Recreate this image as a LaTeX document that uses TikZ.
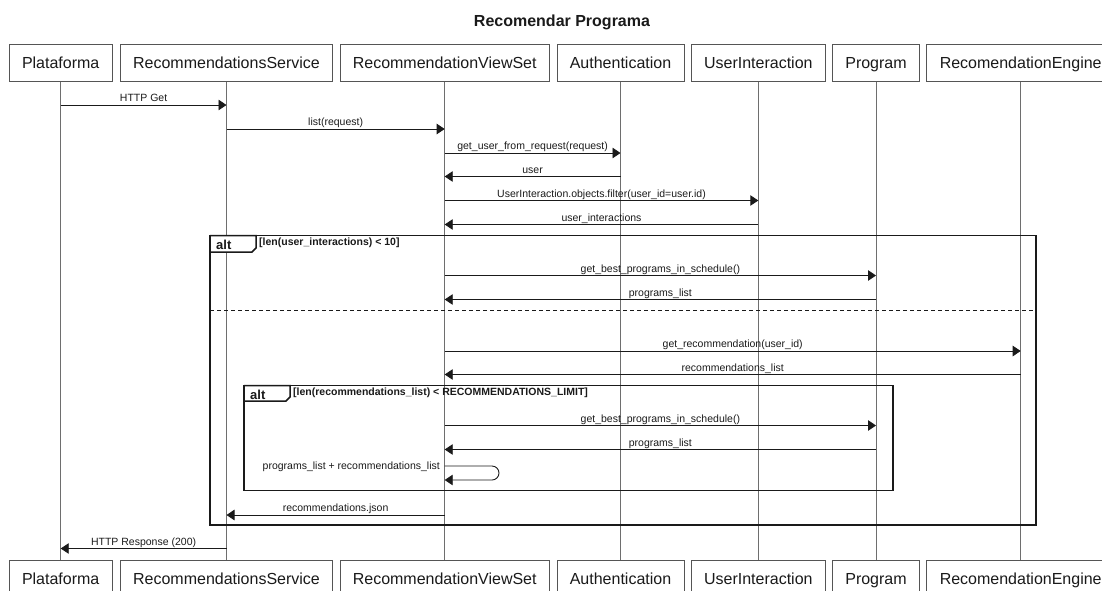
\documentclass[tikz,border=0pt]{standalone}
\usepackage{fontspec}
\setmainfont{Liberation Sans}
\usetikzlibrary{arrows.meta}
\definecolor{lifegray}{HTML}{6E6E6E}
\definecolor{boxgray}{HTML}{555555}
\definecolor{ink}{HTML}{1A1A1A}
\begin{document}
\begin{tikzpicture}[x=1pt,y=-1pt,
  actor/.style={draw=boxgray, line width=0.9pt, fill=white, minimum height=37.5pt,
    inner sep=0pt, text height=13.2pt, text depth=1.8pt,
    font=\fontsize{16}{18}\selectfont, text=ink},
  lifeline/.style={draw=lifegray, line width=1pt},
  msg/.style={draw=ink, line width=0.9pt, -{Triangle[length=8pt,width=10.5pt]}},
  lbl/.style={font=\fontsize{10.5}{12}\selectfont, text=ink, anchor=base, inner sep=0pt},
  frame/.style={draw=ink, line width=1.7pt},
  tab/.style={draw=ink, line width=1.5pt, fill=white},
  altword/.style={font=\bfseries\fontsize{13}{15}\selectfont, text=ink, anchor=base west, inner sep=0pt},
  guard/.style={font=\bfseries\fontsize{10.5}{12}\selectfont, text=ink, anchor=base west, inner sep=0pt}]

\useasboundingbox (0,0) rectangle (1102,590);
\clip (0,0) rectangle (1102,590);

% title
\node[font=\bfseries\fontsize{16}{19}\selectfont, text=ink, anchor=base] (title) at (562,26) {Recomendar Programa};

% participants, top row
\node[actor, minimum width=103pt] (pf) at (60.7,63) {Plataforma};
\node[actor, minimum width=212pt] (rs) at (226.5,63) {RecommendationsService};
\node[actor, minimum width=209pt] (vs) at (444.7,63) {RecommendationViewSet};
\node[actor, minimum width=127pt] (au) at (620.5,63) {Authentication};
\node[actor, minimum width=134pt] (ui) at (758.3,63) {UserInteraction};
\node[actor, minimum width=87pt]  (pg) at (876,63) {Program};
\node[actor, minimum width=188pt] (re) at (1020.7,63) {RecomendationEngine};

% participants, bottom row
\node[actor, minimum width=103pt] (pfB) at (60.7,578.8) {Plataforma};
\node[actor, minimum width=212pt] (rsB) at (226.5,578.8) {RecommendationsService};
\node[actor, minimum width=209pt] (vsB) at (444.7,578.8) {RecommendationViewSet};
\node[actor, minimum width=127pt] (auB) at (620.5,578.8) {Authentication};
\node[actor, minimum width=134pt] (uiB) at (758.3,578.8) {UserInteraction};
\node[actor, minimum width=87pt]  (pgB) at (876,578.8) {Program};
\node[actor, minimum width=188pt] (reB) at (1020.7,578.8) {RecomendationEngine};

% lifelines
\foreach \p in {pf,rs,vs,au,ui,pg,re}
  \draw[lifeline] (\p.south) -- (\p B.north);

% opening calls
\draw[msg] (pf |- 0,105) -- node[lbl, yshift=3.5pt] {HTTP Get} (rs |- 0,105);
\draw[msg] (rs |- 0,129) -- node[lbl, yshift=3.5pt] {list(request)} (vs |- 0,129);
\draw[msg] (vs |- 0,153) -- node[lbl, yshift=3.5pt] {get\_user\_from\_request(request)} (au |- 0,153);
\draw[msg] (au |- 0,176.5) -- node[lbl, yshift=3.5pt] {user} (vs |- 0,176.5);
\draw[msg] (vs |- 0,200.5) -- node[lbl, yshift=3.5pt] {UserInteraction.objects.filter(user\_id=user.id)} (ui |- 0,200.5);
\draw[msg] (ui |- 0,224.5) -- node[lbl, yshift=3.5pt] {user\_interactions} (vs |- 0,224.5);

% outer alt fragment
\draw[tab] (210,235.5) -- (256,235.5) -- (256,248) -- (252,252) -- (210,252);
\draw[frame] (210,235.5) rectangle (1036,525);
\node[altword] (alt1) at (216,249) {alt};
\node[guard] (g1) at (259,245.5) {[len(user\_interactions) < 10]};

\draw[msg] (vs |- 0,275.5) -- node[lbl, yshift=3.5pt] {get\_best\_programs\_in\_schedule()} (pg |- 0,275.5);
\draw[msg] (pg |- 0,299.5) -- node[lbl, yshift=3.5pt] {programs\_list} (vs |- 0,299.5);

\draw[draw=ink, line width=1.5pt, dash pattern=on 4pt off 3pt] (210,310.5) -- (1036,310.5);

\draw[msg] (vs |- 0,351) -- node[lbl, yshift=3.5pt] {get\_recommendation(user\_id)} (re |- 0,351);
\draw[msg] (re |- 0,374.5) -- node[lbl, yshift=3.5pt] {recommendations\_list} (vs |- 0,374.5);

% inner alt fragment
\draw[tab] (244,385.5) -- (290,385.5) -- (290,397) -- (286,401) -- (244,401);
\draw[frame] (244,385.5) rectangle (893,490.5);
\node[altword] (alt2) at (250,399) {alt};
\node[guard] (g2) at (293,395) {[len(recommendations\_list) < RECOMMENDATIONS\_LIMIT]};

\draw[msg] (vs |- 0,425.5) -- node[lbl, yshift=3.5pt] {get\_best\_programs\_in\_schedule()} (pg |- 0,425.5);
\draw[msg] (pg |- 0,449.5) -- node[lbl, yshift=3.5pt] {programs\_list} (vs |- 0,449.5);

% self call on the view set
\coordinate (selfR) at (499,473);
\draw[msg, rounded corners=7pt] (vs |- 0,466) -- (selfR |- 0,466) -- (selfR |- 0,480) -- (vs |- 0,480);
\node[lbl, anchor=base east] (selfL) at (440,469) {programs\_list + recommendations\_list};

% replies
\draw[msg] (vs |- 0,515) -- node[lbl, yshift=3.5pt] {recommendations.json} (rs |- 0,515);
\draw[msg] (rs |- 0,548.5) -- node[lbl, yshift=3.5pt] {HTTP Response (200)} (pf |- 0,548.5);

\end{tikzpicture}
\end{document}
